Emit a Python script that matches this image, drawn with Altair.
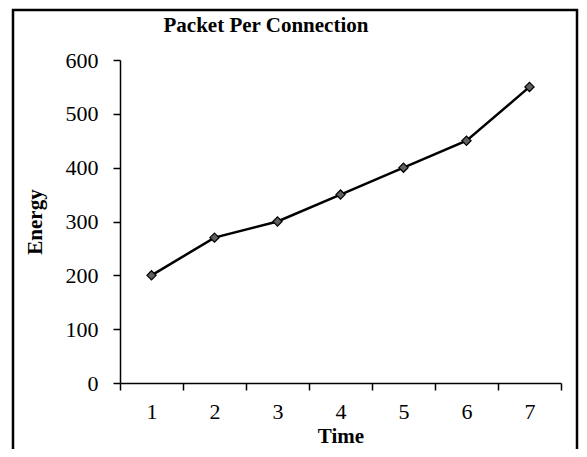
import altair as alt
import pandas as pd

times = [1, 2, 3, 4, 5, 6, 7]
energy = [200, 270, 300, 350, 400, 450, 550]
y_ticks = [0, 100, 200, 300, 400, 500, 600]
x_tick_edges = [0.5, 1.5, 2.5, 3.5, 4.5, 5.5, 6.5, 7.5]
chart_title = "Packet Per Connection"

df = pd.DataFrame({"time": times, "energy": energy})
one = pd.DataFrame({"a": [0]})

FONT = "Liberation Serif"

xscale = alt.Scale(domain=[0.5, 7.5], nice=False, zero=False)
yscale = alt.Scale(domain=[0, 600], nice=False)

yaxis = alt.Axis(values=y_ticks, title="Energy", grid=False, domainColor="black",
                 domainWidth=1.5, tickColor="black", tickWidth=1.5, tickSize=7,
                 labelFont=FONT, labelFontSize=22, labelColor="black", labelPadding=15,
                 titleFont=FONT, titleFontSize=21, titleFontWeight="bold", titleColor="black",
                 titlePadding=20)

line = alt.Chart(df).mark_line(color="black", strokeWidth=2.5).encode(
    x=alt.X("time:Q", scale=xscale,
            axis=alt.Axis(orient="bottom", values=x_tick_edges, labels=False, title=None,
                          grid=False, domainColor="black", domainWidth=1.5,
                          tickColor="black", tickWidth=1.5, tickSize=7)),
    y=alt.Y("energy:Q", scale=yscale, axis=yaxis),
)

points = alt.Chart(df).mark_point(shape="diamond", filled=True, fill="#5f5f5f",
                                  stroke="black", strokeWidth=1.2, size=85, opacity=1).encode(
    x=alt.X("time:Q", scale=xscale,
            axis=alt.Axis(orient="bottom", values=times, ticks=False, domain=False, grid=False,
                          title="Time", labelFont=FONT, labelFontSize=22, labelColor="black",
                          labelPadding=18, titleFont=FONT, titleFontSize=21,
                          titleFontWeight="bold", titleColor="black", titlePadding=3)),
    y=alt.Y("energy:Q", scale=yscale, axis=yaxis),
)

border = alt.Chart(one).mark_rect(fill=None, stroke="black", strokeWidth=2.5, clip=False).encode(
    x=alt.value(-107), x2=alt.value(457), y=alt.value(-50), y2=alt.value(420)
)

title = alt.Chart(one).mark_text(font=FONT, fontSize=21, fontWeight="bold", color="black",
                                 baseline="alphabetic", align="center").encode(
    x=alt.value(146), y=alt.value(-28), text=alt.value(chart_title)
)

chart = alt.layer(border, line, points, title).resolve_axis(x="independent").properties(
    width=441, height=323,
    autosize=alt.AutoSizeParams(type="none"),
    padding={"left": 112, "top": 52, "right": 18, "bottom": 66},
).configure_view(stroke=None)

chart.save("out.html", embed_options={"renderer": "svg", "actions": False})
